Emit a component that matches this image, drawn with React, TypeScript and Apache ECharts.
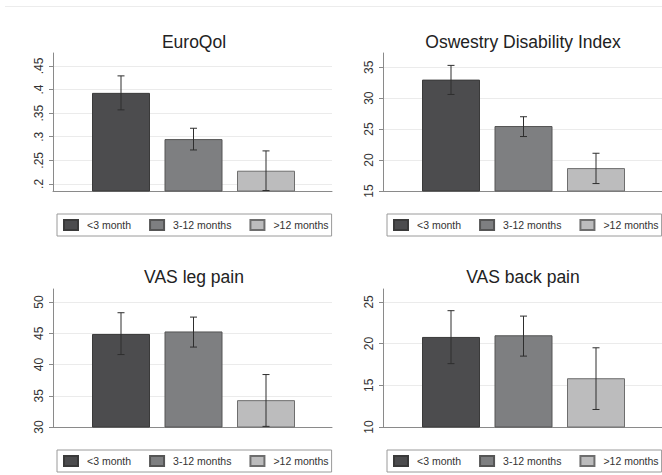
import React, { useEffect, useRef } from "react";
import * as echarts from "echarts";

const groups = ["<3 month", "3-12 months", ">12 months"];
const groupColors = ["#4c4c4e", "#7e7f81", "#bcbcbd"];
const groupBorders = ["#3a3a3a", "#555555", "#6e6e6e"];
const barPositions = [1, 2, 3];

const panelTitles = ["EuroQol", "Oswestry Disability Index", "VAS leg pain", "VAS back pain"];

const euroqolMean = [0.393, 0.295, 0.228];
const euroqolLow = [0.357, 0.272, 0.186];
const euroqolHigh = [0.429, 0.318, 0.27];
const euroqolTicks = [0.2, 0.25, 0.3, 0.35, 0.4, 0.45];
const euroqolRange = [0.185, 0.4775];

const odiMean = [33.0, 25.5, 18.7];
const odiLow = [30.6, 23.8, 16.2];
const odiHigh = [35.3, 27.0, 21.1];
const odiTicks = [15, 20, 25, 30, 35];
const odiRange = [15, 37.3];

const legMean = [44.9, 45.3, 34.3];
const legLow = [41.6, 42.8, 30.1];
const legHigh = [48.3, 47.6, 38.4];
const legTicks = [30, 35, 40, 45, 50];
const legRange = [30, 52.1];

const backMean = [20.8, 21.0, 15.85];
const backLow = [17.6, 18.5, 12.1];
const backHigh = [23.95, 23.3, 19.5];
const backTicks = [10, 15, 20, 25];
const backRange = [10, 26.55];

const panels = [
  { mean: euroqolMean, low: euroqolLow, high: euroqolHigh, ticks: euroqolTicks, range: euroqolRange },
  { mean: odiMean, low: odiLow, high: odiHigh, ticks: odiTicks, range: odiRange },
  { mean: legMean, low: legLow, high: legHigh, ticks: legTicks, range: legRange },
  { mean: backMean, low: backLow, high: backHigh, ticks: backTicks, range: backRange },
];

const FONT = "Liberation Sans, Arial, Helvetica, sans-serif";

export default function App() {
  const ref = useRef<HTMLDivElement>(null);

  useEffect(() => {
    if (!ref.current) return;
    const chart = echarts.init(ref.current, null, { renderer: "svg" });

    const gridPos = [
      { left: 53, top: 53 },
      { left: 383, top: 53 },
      { left: 53, top: 289 },
      { left: 383, top: 289 },
    ];
    const plotW = 279;
    const plotH = 138;
    const titleCenters = [
      { x: 194, y: 42 },
      { x: 523, y: 42 },
      { x: 194, y: 277 },
      { x: 523, y: 277 },
    ];
    const legendPos = [
      { left: 57, top: 214 },
      { left: 387, top: 214 },
      { left: 57, top: 450 },
      { left: 387, top: 450 },
    ];

    const grid = gridPos.map((g) => ({ left: g.left, top: g.top, width: plotW, height: plotH, containLabel: false }));

    const xAxis = panels.map((_, i) => ({
      type: "value",
      gridIndex: i,
      min: 0.062,
      max: 0.062 + plotW / 72.5,
      axisLine: { show: true, onZero: false, lineStyle: { color: "#8a8a8a", width: 1 } },
      axisTick: { show: false },
      axisLabel: { show: false },
      splitLine: { show: false },
    }));

    const yAxis = panels.map((p, i) => ({
      type: "value",
      gridIndex: i,
      min: p.range[0],
      max: p.range[1],
      axisLine: { show: true, onZero: false, lineStyle: { color: "#8a8a8a", width: 1 } },
      axisTick: { show: true, length: 4, customValues: p.ticks, lineStyle: { color: "#8a8a8a" } },
      axisLabel: {
        show: true,
        customValues: p.ticks,
        rotate: 90,
        margin: 8,
        fontSize: 12,
        fontFamily: FONT,
        color: "#333",
        formatter: (v: number) => String(v).replace(/^0\./, "."),
      },
      splitLine: { show: true, lineStyle: { color: "#ebebeb", width: 1 } },
    }));

    const series: any[] = [];
    panels.forEach((p, i) => {
      groups.forEach((g, k) => {
        series.push({
          type: "bar",
          name: g,
          xAxisIndex: i,
          yAxisIndex: i,
          barWidth: 58,
          barGap: "-100%",
          clip: true,
          itemStyle: { color: groupColors[k], borderColor: groupBorders[k], borderWidth: 1 },
          data: [[barPositions[k], p.mean[k]]],
        });
      });
      series.push({
        type: "custom",
        name: "ci" + i,
        xAxisIndex: i,
        yAxisIndex: i,
        z: 10,
        data: groups.map((_, k) => [barPositions[k], p.low[k], p.high[k]]),
        renderItem: (params: any, api: any) => {
          const x = api.value(0);
          const top = api.coord([x, api.value(2)]);
          const bot = api.coord([x, api.value(1)]);
          const cap = 3.5;
          const style = { stroke: "#2e2e2e", lineWidth: 1 };
          return {
            type: "group",
            children: [
              { type: "line", shape: { x1: top[0], y1: top[1], x2: bot[0], y2: bot[1] }, style },
              { type: "line", shape: { x1: top[0] - cap, y1: top[1], x2: top[0] + cap, y2: top[1] }, style },
              { type: "line", shape: { x1: bot[0] - cap, y1: bot[1], x2: bot[0] + cap, y2: bot[1] }, style },
            ],
          };
        },
      });
    });

    const legend = legendPos.map((l) => ({
      left: l.left,
      top: l.top,
      data: groups,
      orient: "horizontal",
      icon: "rect",
      itemWidth: 14,
      itemHeight: 10,
      itemGap: 18,
      padding: [5, 3, 5, 6],
      borderColor: "#9a9a9a",
      borderWidth: 1,
      backgroundColor: "#fff",
      selectedMode: false,
      textStyle: { fontSize: 10.5, fontFamily: FONT, color: "#333", padding: [0, 0, 0, 4] },
    }));

    const graphic: any[] = [
      { type: "line", shape: { x1: 5, y1: 6.5, x2: 662, y2: 6.5 }, style: { stroke: "#ececec", lineWidth: 1 } },
    ];
    panelTitles.forEach((t, i) => {
      graphic.push({
        type: "text",
        x: titleCenters[i].x,
        y: titleCenters[i].y,
        style: {
          text: t,
          fontSize: 17.5,
          fontFamily: FONT,
          fill: "#222",
          textAlign: "center",
          textVerticalAlign: "middle",
        },
      });
    });

    chart.setOption({
      animation: false,
      backgroundColor: "#ffffff",
      grid,
      xAxis,
      yAxis,
      legend,
      series,
      graphic,
    });

    return () => chart.dispose();
  }, []);

  return (
    <div
      ref={ref}
      style={{ position: "fixed", left: 0, top: 0, width: 662, height: 475, background: "#fff" }}
    />
  );
}
